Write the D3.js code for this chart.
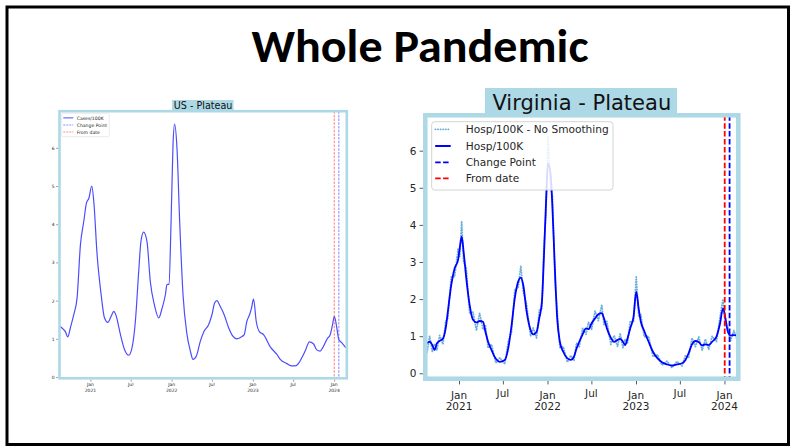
<!DOCTYPE html>
<html>
<head>
<meta charset="utf-8">
<script src="https://cdn.jsdelivr.net/npm/d3@7"></script>
<style>
	body { margin: 0; background: #fff; }
</style>
</head>
<body>
<div id="slide"></div>
<script>
// ---- data ----
var usDates = ["2020-08-16","2020-09-03","2020-09-11","2020-09-21","2020-10-03","2020-10-18","2020-11-02","2020-11-17","2020-12-02","2020-12-14",
	"2020-12-25","2021-01-07","2021-01-16","2021-01-31","2021-02-18","2021-03-05","2021-03-20","2021-04-04","2021-04-16","2021-04-25",
	"2021-05-16","2021-06-03","2021-06-22","2021-07-07","2021-07-22","2021-08-06","2021-08-16","2021-08-28","2021-09-12","2021-09-27",
	"2021-10-15","2021-11-04","2021-11-19","2021-12-04","2021-12-11","2021-12-20","2021-12-29","2022-01-07","2022-01-14","2022-01-25",
	"2022-02-06","2022-02-21","2022-03-11","2022-03-26","2022-04-07","2022-04-22","2022-05-10","2022-05-25","2022-06-16","2022-07-01",
	"2022-07-13","2022-07-23","2022-08-07","2022-08-25","2022-09-14","2022-10-03","2022-10-21","2022-11-13","2022-11-23","2022-12-05",
	"2022-12-17","2022-12-26","2023-01-04","2023-01-16","2023-01-31","2023-02-18","2023-03-20","2023-04-19","2023-05-04","2023-06-03",
	"2023-06-25","2023-07-15","2023-08-01","2023-08-24","2023-09-12","2023-09-30","2023-10-15","2023-10-30","2023-11-11","2023-12-02",
	"2023-12-14","2023-12-25","2024-01-02","2024-01-13","2024-01-22","2024-02-04","2024-02-22"];
var usCases = [1.33,1.24,1.18,1.05,1.29,1.63,2.07,3.46,4.07,4.55,
	4.68,5.00,4.60,3.20,2.16,1.55,1.43,1.59,1.72,1.63,
	1.11,0.72,0.57,0.77,1.46,2.77,3.55,3.79,3.55,2.50,
	1.90,1.55,1.80,2.16,2.42,2.43,3.98,6.07,6.62,5.98,
	4.07,2.16,1.11,0.68,0.46,0.55,0.94,1.18,1.37,1.63,
	1.94,2.00,1.85,1.63,1.29,1.07,1.00,1.06,1.11,1.46,
	1.63,1.81,2.04,1.46,1.18,1.11,0.79,0.59,0.46,0.35,
	0.29,0.30,0.42,0.68,0.92,0.87,0.71,0.68,0.77,1.01,
	1.10,1.37,1.59,1.29,0.98,0.90,0.77];

var vaDates = ["2020-08-15","2020-08-22","2020-09-02","2020-09-13","2020-09-22","2020-10-02","2020-10-13","2020-10-27","2020-11-07","2020-11-16",
	"2020-11-30","2020-12-14","2020-12-28","2021-01-04","2021-01-12","2021-01-20","2021-01-31","2021-02-14","2021-02-28","2021-03-14",
	"2021-03-27","2021-04-10","2021-04-20","2021-05-01","2021-05-15","2021-06-02","2021-06-18","2021-07-09","2021-07-23","2021-08-06",
	"2021-08-19","2021-09-02","2021-09-13","2021-09-23","2021-10-07","2021-10-23","2021-11-03","2021-11-17","2021-11-28","2021-12-09",
	"2021-12-17","2021-12-26","2022-01-03","2022-01-14","2022-01-22","2022-02-01","2022-02-10","2022-02-21","2022-03-07","2022-03-24",
	"2022-04-07","2022-04-20","2022-05-01","2022-05-12","2022-05-26","2022-06-09","2022-06-19","2022-07-02","2022-07-16","2022-07-30",
	"2022-08-13","2022-08-22","2022-09-03","2022-09-19","2022-10-03","2022-10-17","2022-10-28","2022-11-08","2022-11-17","2022-11-27",
	"2022-12-08","2022-12-22","2023-01-02","2023-01-12","2023-01-21","2023-02-04","2023-02-22","2023-03-12","2023-03-31","2023-04-18",
	"2023-05-09","2023-05-29","2023-06-19","2023-07-10","2023-07-24","2023-08-06","2023-08-20","2023-09-03","2023-09-17","2023-10-01",
	"2023-10-14","2023-10-28","2023-11-11","2023-11-29","2023-12-13","2023-12-26","2024-01-05","2024-01-15","2024-01-26","2024-02-09",
	"2024-02-20"];
var vaHosp = [0.75,0.81,0.85,0.76,0.63,0.81,0.87,0.94,1.21,1.66,
	2.38,2.83,3.05,3.37,3.68,3.28,2.56,1.84,1.44,1.37,
	1.41,1.39,1.12,0.85,0.63,0.39,0.31,0.36,0.67,1.30,
	2.02,2.47,2.58,2.38,1.66,1.17,1.05,1.12,1.48,1.93,
	3.09,4.63,5.66,5.35,4.36,2.74,1.48,0.85,0.58,0.40,
	0.36,0.45,0.67,0.85,1.05,1.21,1.19,1.35,1.48,1.59,
	1.62,1.48,1.21,0.96,0.85,0.90,0.93,0.85,0.76,0.94,
	1.21,1.53,2.20,1.75,1.39,1.14,0.85,0.58,0.40,0.30,
	0.24,0.21,0.24,0.27,0.36,0.54,0.78,0.87,0.84,0.75,
	0.78,0.76,0.85,0.99,1.32,1.75,1.48,1.12,1.02,1.03,
	1.02];
var vaHospRaw = [0.95,0.55,1.00,0.58,0.80,0.62,1.02,0.78,1.40,1.48,
	2.60,2.60,3.35,3.15,4.10,3.00,2.85,1.60,1.65,1.15,
	1.62,1.18,1.30,0.68,0.78,0.28,0.42,0.25,0.85,1.12,
	2.25,2.30,2.90,2.20,1.85,1.00,1.22,0.95,1.70,1.75,
	3.40,4.30,6.40,5.00,4.75,2.45,1.70,0.70,0.72,0.30,
	0.48,0.34,0.82,0.70,1.22,1.05,1.38,1.18,1.68,1.42,
	1.85,1.30,1.40,0.78,1.02,0.72,1.08,0.68,0.92,0.80,
	1.40,1.38,2.60,1.55,1.58,0.98,1.00,0.45,0.50,0.22,
	0.33,0.15,0.32,0.20,0.48,0.42,0.95,0.72,0.98,0.62,
	0.92,0.64,1.00,0.85,1.50,2.00,1.30,1.25,0.88,1.15,
	0.95];

var fromDate = "2024-01-02";
var changePoint = "2024-01-22";

var tickDates = ["2021-01-01","2021-07-01","2022-01-01","2022-07-01","2023-01-01","2023-07-01","2024-01-01"];
var tickMonth = ["Jan","Jul","Jan","Jul","Jan","Jul","Jan"];
var tickYear = ["2021","","2022","","2023","","2024"];
var yTicks = [0, 1, 2, 3, 4, 5, 6];

var usLegend = ["Cases/100K", "Change Point", "From date"];
var vaLegend = ["Hosp/100K - No Smoothing", "Hosp/100K", "Change Point", "From date"];

var parse = d3.timeParse("%Y-%m-%d");
var xDomain = [parse("2020-08-15"), parse("2024-02-27")];
var lightBlue = "#add8e6";

var svg = d3.select("#slide")
	.append("svg")
	.attr("width", 794)
	.attr("height", 448)
	.style("display", "block");

//Rahmen der Folie
svg.append("rect")
	.attr("x", 7).attr("y", 7)
	.attr("width", 781.5).attr("height", 437.5)
	.attr("fill", "#fff")
	.attr("stroke", "#000")
	.attr("stroke-width", 3);

//Ueberschrift
svg.append("text")
	.attr("x", 420)
	.attr("y", 62)
	.attr("text-anchor", "middle")
	.attr("textLength", 337)
	.attr("lengthAdjust", "spacingAndGlyphs")
	.style("font-family", "Carlito, Calibri, 'Open Sans', sans-serif")
	.style("font-weight", "bold")
	.style("font-size", "46px")
	.text("Whole Pandemic");

function drawPanel(cfg) {
	var g = svg.append("g");

	var x = d3.scaleTime().domain(xDomain).range([cfg.left, cfg.right]);
	var y = d3.scaleLinear().domain(cfg.yDomain).range([cfg.bottom, cfg.top]);

	var clipId = "clip-" + cfg.id;
	g.append("clipPath").attr("id", clipId)
		.append("rect")
		.attr("x", cfg.left).attr("y", cfg.top)
		.attr("width", cfg.right - cfg.left)
		.attr("height", cfg.bottom - cfg.top);

	var plot = g.append("g").attr("clip-path", "url(#" + clipId + ")");

	var line = d3.line()
		.x(function(d) { return x(d.date) })
		.y(function(d) { return y(d.v) });

	//Linien
	cfg.series.forEach(function(s) {
		var pts = s.dates.map(function(d, i) { return { date: parse(d), v: s.values[i] } });
		plot.append("path")
			.datum(pts)
			.attr("fill", "none")
			.attr("stroke", s.color)
			.attr("stroke-width", s.width)
			.attr("stroke-opacity", s.opacity)
			.attr("stroke-dasharray", s.dash)
			.attr("stroke-linecap", s.cap || "butt")
			.attr("stroke-linejoin", "round")
			.attr("d", line.curve(s.curve));
	});

	//senkrechte Linien
	[[changePoint, cfg.cpColor], [fromDate, cfg.fdColor]].forEach(function(v) {
		g.append("line")
			.attr("x1", x(parse(v[0]))).attr("x2", x(parse(v[0])))
			.attr("y1", cfg.top).attr("y2", cfg.bottom)
			.attr("stroke", v[1])
			.attr("stroke-width", cfg.vWidth)
			.attr("stroke-dasharray", cfg.vDash);
	});

	//Y Achse
	var yAxis = g.append("g")
		.attr("transform", "translate(" + (cfg.left - cfg.spine / 2) + ",0)")
		.call(d3.axisLeft(y).tickValues(yTicks).tickFormat(d3.format("d")).tickSize(cfg.tickLen).tickPadding(cfg.tickPad));
	yAxis.select(".domain").remove();
	yAxis.selectAll("line").attr("stroke", "#333").attr("stroke-width", cfg.tickW);
	yAxis.selectAll("text")
		.attr("fill", "#262626")
		.style("font-family", "'DejaVu Sans', sans-serif")
		.style("font-size", cfg.tickFont + "px");

	//X Achse
	var xAxis = g.append("g")
		.attr("transform", "translate(0," + (cfg.bottom + cfg.spine / 2) + ")")
		.call(d3.axisBottom(x).tickValues(tickDates.map(parse)).tickSize(cfg.tickLen).tickFormat(""));
	xAxis.select(".domain").remove();
	xAxis.selectAll("line").attr("stroke", "#333").attr("stroke-width", cfg.tickW);

	tickDates.forEach(function(d, i) {
		g.append("text")
			.attr("x", x(parse(d)))
			.attr("y", tickYear[i] ? cfg.monthY : cfg.monthY - cfg.julShift)
			.attr("text-anchor", "middle")
			.attr("fill", "#262626")
			.style("font-family", "'DejaVu Sans', sans-serif")
			.style("font-size", cfg.tickFont + "px")
			.text(tickMonth[i]);
		if (tickYear[i]) {
			g.append("text")
				.attr("x", x(parse(d)))
				.attr("y", cfg.yearY)
				.attr("text-anchor", "middle")
				.attr("fill", "#262626")
				.style("font-family", "'DejaVu Sans', sans-serif")
				.style("font-size", cfg.tickFont + "px")
				.text(tickYear[i]);
		}
	});

	//Rahmen (hellblau)
	g.append("rect")
		.attr("x", cfg.left).attr("y", cfg.top)
		.attr("width", cfg.right - cfg.left)
		.attr("height", cfg.bottom - cfg.top)
		.attr("fill", "none")
		.attr("stroke", lightBlue)
		.attr("stroke-width", cfg.spine);

	//Titel mit Hintergrund
	var tb = cfg.titleBox;
	g.append("rect")
		.attr("x", tb[0]).attr("y", tb[1])
		.attr("width", tb[2]).attr("height", tb[3])
		.attr("fill", lightBlue);
	g.append("text")
		.attr("x", (cfg.left + cfg.right) / 2)
		.attr("y", cfg.titleY)
		.attr("text-anchor", "middle")
		.attr("fill", "#111")
		.style("font-family", "'DejaVu Sans', sans-serif")
		.style("font-size", cfg.titleFont + "px")
		.text(cfg.title);

	//Legende
	var lg = cfg.legend;
	g.append("rect")
		.attr("x", lg.x).attr("y", lg.y)
		.attr("width", lg.w).attr("height", lg.h)
		.attr("rx", lg.rx)
		.attr("fill", "#fff").attr("fill-opacity", 0.85)
		.attr("stroke", "#cfcfcf")
		.attr("stroke-width", lg.stroke);
	lg.labels.forEach(function(label, i) {
		var st = lg.styles[i];
		var ry = lg.rows[i];
		g.append("line")
			.attr("x1", lg.x + lg.sx0).attr("x2", lg.x + lg.sx1)
			.attr("y1", ry).attr("y2", ry)
			.attr("stroke", st.color)
			.attr("stroke-width", st.width)
			.attr("stroke-opacity", st.opacity)
			.attr("stroke-dasharray", st.dash)
			.attr("stroke-linecap", st.cap || "butt");
		g.append("text")
			.attr("x", lg.x + lg.tx)
			.attr("y", ry)
			.attr("dy", "0.35em")
			.attr("fill", "#262626")
			.style("font-family", "'DejaVu Sans', sans-serif")
			.style("font-size", lg.font + "px")
			.text(label);
	});
}

//US Grafik (links, klein)
drawPanel({
	id: "us",
	left: 59.5, right: 346.8, top: 111.2, bottom: 378.3,
	yDomain: [-0.034, 6.958],
	spine: 2.6, tickLen: 2, tickPad: 1.5, tickW: 0.5, tickFont: 4.5,
	monthY: 385.8, yearY: 391.8, julShift: 0,
	title: "US - Plateau", titleFont: 9.6, titleY: 108.6,
	titleBox: [172, 100, 61.5, 11],
	cpColor: "rgba(70,70,255,0.5)", fdColor: "rgba(255,60,60,0.5)", vWidth: 1.3, vDash: "2.5,1.2",
	series: [
		{ dates: usDates, values: usCases, color: "#0000ff", width: 1.2, opacity: 0.7, dash: null, curve: d3.curveMonotoneX }
	],
	legend: {
		x: 61.7, y: 113.3, w: 47.6, h: 23.4, rx: 1, stroke: 0.4, font: 4.6,
		rows: [117.9, 125, 132], sx0: 1.6, sx1: 11.6, tx: 15,
		labels: usLegend,
		styles: [
			{ color: "#0000ff", width: 1, opacity: 0.7, dash: null },
			{ color: "#0000ff", width: 1, opacity: 0.45, dash: "2,1" },
			{ color: "#ff0000", width: 1, opacity: 0.45, dash: "2,1" }
		]
	}
});

//Virginia Grafik (rechts)
drawPanel({
	id: "va",
	left: 425.3, right: 738.3, top: 115.3, bottom: 378.7,
	yDomain: [-0.146, 6.954],
	spine: 4.5, tickLen: 3.5, tickPad: 3, tickW: 0.8, tickFont: 10.5,
	monthY: 399, yearY: 410.3, julShift: 2,
	title: "Virginia - Plateau", titleFont: 21, titleY: 110,
	titleBox: [485, 88, 192, 26],
	cpColor: "#0000ff", fdColor: "#ff0000", vWidth: 1.8, vDash: "5.5,2.4",
	series: [
		{ dates: vaDates, values: vaHospRaw, color: "#5aa6d6", width: 1.8, opacity: 0.9, dash: "0.4,2.2", cap: "round", curve: d3.curveLinear },
		{ dates: vaDates, values: vaHosp, color: "#0000ff", width: 1.8, opacity: 1, dash: null, curve: d3.curveMonotoneX }
	],
	legend: {
		x: 431.7, y: 121.7, w: 181.3, h: 68.3, rx: 3, stroke: 0.9, font: 10.6,
		rows: [129.4, 146, 162.3, 178.4], sx0: 3.5, sx1: 19, tx: 34,
		labels: vaLegend,
		styles: [
			{ color: "#5aa6d6", width: 1.6, opacity: 0.9, dash: "0.4,2.2", cap: "round" },
			{ color: "#0000ff", width: 2, opacity: 1, dash: null },
			{ color: "#0000ff", width: 1.8, opacity: 1, dash: "5.5,2.4" },
			{ color: "#ff0000", width: 1.8, opacity: 1, dash: "5.5,2.4" }
		]
	}
});
</script>
</body>
</html>
